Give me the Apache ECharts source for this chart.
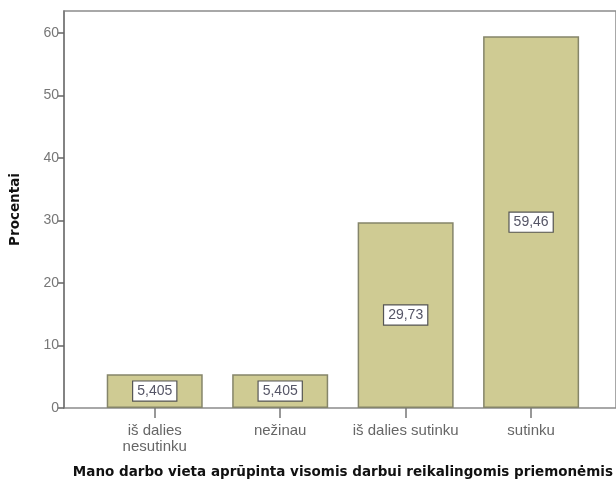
<!DOCTYPE html>
<html><head><meta charset="utf-8">
<script src="https://cdn.jsdelivr.net/npm/echarts@6/dist/echarts.min.js"></script>
<style>html,body{margin:0;padding:0;background:#fff}#c{width:616px;height:486px}</style>
</head><body><div id="c"></div>
<script>
var categories = ['iš dalies\nnesutinku', 'nežinau', 'iš dalies sutinku', 'sutinku'];
var values = [5.405, 5.405, 29.73, 59.46];
var valueLabels = ['5,405', '5,405', '29,73', '59,46'];
var yTicks = [0, 10, 20, 30, 40, 50, 60];
var yName = 'Procentai';
var xName = 'Mano darbo vieta aprūpinta visomis darbui reikalingomis priemonėmis';

var chart = echarts.init(document.getElementById('c'), null, {renderer: 'canvas'});
chart.setOption({
  animation: false,
  backgroundColor: '#fff',
  grid: [
    {left: 92, right: 21, top: 11, bottom: 78},
    {left: 64, right: -8, top: 11, bottom: 78, show: true, borderColor: '#8c8c8c', borderWidth: 1.5, backgroundColor: 'transparent', z: 0}
  ],
  xAxis: [
    {type: 'category', gridIndex: 0, data: categories, boundaryGap: true,
     axisLine: {show: false},
     axisTick: {show: true, alignWithLabel: true, length: 10, lineStyle: {color: '#777', width: 1.5}},
     axisLabel: {color: '#666', fontSize: 15, fontFamily: 'Liberation Sans, Arial', margin: 15, lineHeight: 16, interval: 0},
     name: xName, nameLocation: 'middle', nameGap: 57,
     nameTextStyle: {fontWeight: 'bold', fontSize: 13.5, color: '#111', fontFamily: 'DejaVu Sans'}},
    {type: 'value', gridIndex: 1, show: false, min: 0, max: 1}
  ],
  yAxis: [
    {type: 'value', gridIndex: 0, min: 0, max: 63.5, interval: 10, offset: 28,
     axisLine: {show: true, lineStyle: {color: '#777', width: 1.5}},
     axisTick: {show: true, length: 6, lineStyle: {color: '#666', width: 1.5}, customValues: yTicks},
     axisLabel: {color: '#777', fontSize: 14, fontFamily: 'Liberation Sans, Arial', margin: 5, customValues: yTicks},
     splitLine: {show: false},
     name: yName, nameLocation: 'middle', nameGap: 42, nameRotate: 90,
     nameTextStyle: {fontWeight: 'bold', fontSize: 13.5, color: '#111', fontFamily: 'DejaVu Sans'}},
    {type: 'value', gridIndex: 1, show: false, min: 0, max: 1}
  ],
  series: [{
    type: 'bar', xAxisIndex: 0, yAxisIndex: 0, data: values, barWidth: 96,
    itemStyle: {color: '#cfcb93', borderColor: '#85856a', borderWidth: 1.5},
    label: {show: true, position: 'inside',
      formatter: function (p) { return valueLabels[p.dataIndex]; },
      color: '#556', fontSize: 14, fontFamily: 'Liberation Sans, Arial',
      backgroundColor: '#fff', borderColor: '#555', borderWidth: 1.2, padding: [3, 4, 2, 4]}
  }]
});
</script></body></html>
